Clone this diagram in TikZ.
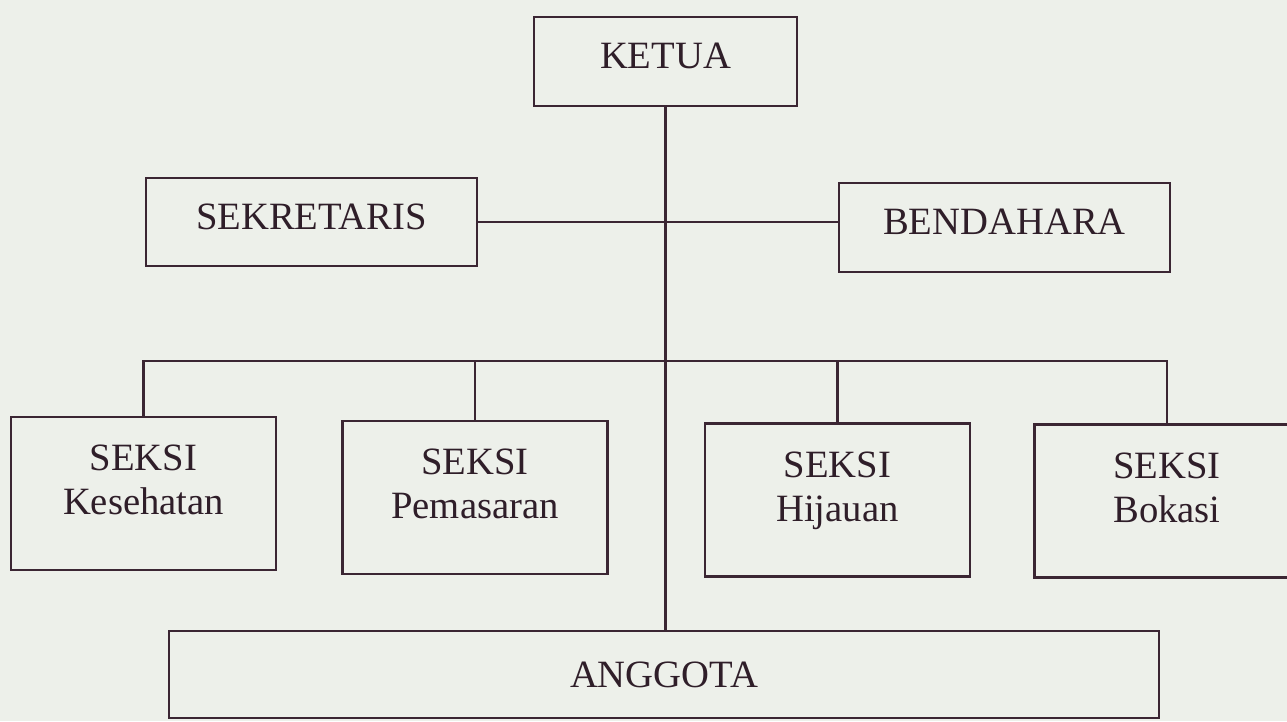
\documentclass[tikz,border=0pt]{standalone}
\usepackage{fontspec}
\setmainfont{Liberation Serif}
\usepackage{xcolor}
\usepackage{tikz}
\definecolor{inkline}{HTML}{3B2633}
\definecolor{paper}{HTML}{EDF0EA}
\usetikzlibrary{positioning}

\tikzset{
  orgbox/.style={draw=inkline,line width=1.3pt,align=center,inner sep=0pt,
    font=\fontsize{22}{25}\selectfont,text=inkline!80!black,text depth=0.22cm},
  seksibox/.style={orgbox,minimum width=5.3cm,minimum height=3.06cm,text depth=0.55cm},
  orgline/.style={draw=inkline,line width=1.3pt}
}

\begin{document}
\begin{tikzpicture}[x=0.02cm,y=-0.02cm]
\clip (0,0) rectangle (1287,721);
\fill[paper] (0,0) rectangle (1287,721);
\node[orgbox,minimum width=5.26cm,minimum height=1.78cm] (ketua) at (665.5,61.5) {KETUA};
\node[orgbox,minimum width=6.62cm,minimum height=1.76cm] (sekretaris) at (311.5,222) {SEKRETARIS};
\node[orgbox,minimum width=6.62cm,minimum height=1.78cm] (bendahara) at (1004.5,227.5) {BENDAHARA};
\node[seksibox] (kesehatan) at (143.5,493.5) {SEKSI\\Kesehatan};
\node[seksibox] (pemasaran) at (475,497.5) {SEKSI\\Pemasaran};
\node[seksibox] (hijauan) at (837.5,500) {SEKSI\\Hijauan};
\node[seksibox] (bokasi) at (1167,501) {SEKSI\\Bokasi};
\node[orgbox,minimum width=19.8cm,minimum height=1.74cm,text depth=0pt] (anggota) at (664,674.5) {ANGGOTA};
\coordinate (hub) at (663,361);
\draw[orgline] (ketua.south) -- (ketua.south |- anggota.north);
\draw[orgline] (sekretaris.east) -- (bendahara.west |- sekretaris.east);
\draw[orgline] (kesehatan.north) |- (hub) -| (bokasi.north);
\draw[orgline] (pemasaran.north) -- (pemasaran.north |- hub);
\draw[orgline] (hijauan.north) -- (hijauan.north |- hub);
\end{tikzpicture}
\end{document}
